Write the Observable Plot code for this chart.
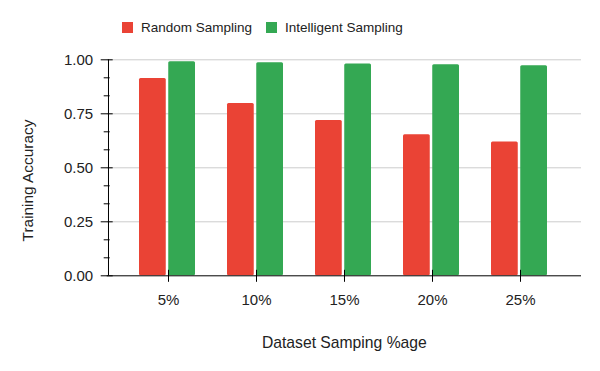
<!DOCTYPE html>
<html>
<head>
<meta charset="utf-8">
<script src="https://cdn.jsdelivr.net/npm/d3@7"></script>
<script src="https://cdn.jsdelivr.net/npm/@observablehq/plot@0.6"></script>
<style>
  body { margin: 0; background: #fff; font-family: "Liberation Sans", Arial, sans-serif; color: #222; }
  #wrap { width: 600px; height: 371px; position: relative; }
  #legend { height: 45px; position: relative; font-size: 13.5px; }
  .item { position: absolute; top: 20px; display: flex; align-items: center; white-space: nowrap; }
  .sw { width: 11px; height: 11px; margin-right: 8px; }
</style>
</head>
<body>
<div id="wrap">
  <div id="legend"></div>
  <div id="chart"></div>
</div>
<script>
const categories = ["5%", "10%", "15%", "20%", "25%"];
const seriesNames = ["Random Sampling", "Intelligent Sampling"];
const randomSampling = [0.913, 0.798, 0.719, 0.653, 0.620];
const intelligentSampling = [0.991, 0.986, 0.981, 0.977, 0.972];
const colors = ["#ea4335", "#34a853"];
const majorTicks = [0, 0.25, 0.5, 0.75, 1];
const minorTicks = [1/12, 2/12, 4/12, 5/12, 7/12, 8/12, 10/12, 11/12];
const xTitle = "Dataset Samping %age";
const yTitle = "Training Accuracy";

// legend
const legend = document.getElementById("legend");
const legendX = [122, 266];
seriesNames.forEach((name, i) => {
  const it = document.createElement("div");
  it.className = "item";
  it.style.left = legendX[i] + "px";
  it.innerHTML = `<span class="sw" style="background:${colors[i]}"></span><span>${name}</span>`;
  legend.appendChild(it);
});

const rows = [];
categories.forEach((c, i) => {
  rows.push({cat: c, series: seriesNames[0], value: randomSampling[i]});
  rows.push({cat: c, series: seriesNames[1], value: intelligentSampling[i]});
});

const W = 600, H = 326;
const mL = 106.7, mR = 19, mT = 14.3, mB = 95.7;
const plotW = W - mL - mR;
const padIn = 0.365, padOut = 0.36;
const step = plotW / (categories.length - padIn + 2 * padOut);
const bw = step * (1 - padIn);
const barW = 27;

const chart = Plot.plot({
  width: W,
  height: H,
  marginLeft: mL,
  marginRight: mR,
  marginTop: mT,
  marginBottom: mB,
  style: {fontFamily: "'Liberation Sans', Arial, sans-serif", fontSize: "15px", color: "#222", background: "transparent"},
  x: {domain: categories, paddingInner: padIn, paddingOuter: padOut, axis: null},
  y: {domain: [0, 1], axis: null},
  marks: [
    Plot.ruleY(majorTicks.filter(d => d > 0), {stroke: "#cccccc", strokeWidth: 1}),
    Plot.barY(rows.filter(d => d.series === seriesNames[0]), {x: "cat", y: "value", fill: colors[0], insetRight: bw - barW, dx: -1, rx: 1.5}),
    Plot.barY(rows.filter(d => d.series === seriesNames[1]), {x: "cat", y: "value", fill: colors[1], insetLeft: bw - barW, dx: -1, rx: 1.5}),
    Plot.ruleY([0], {stroke: "#000", strokeWidth: 1}),
    Plot.ruleX([categories[0]], {y1: 0, y2: 1, stroke: "#000", strokeWidth: 1, dx: -(padOut * step + bw / 2)}),
    Plot.ruleX(categories, {y1: 0, y2: 0, stroke: "#000", insetTop: -5.5, insetBottom: -6.5}),
    Plot.axisX({tickSize: 0, tickPadding: 19, fill: "#222", fontSize: 15, label: null}),
    Plot.axisY({ticks: majorTicks, tickSize: 12, dx: 6, tickFormat: () => "", stroke: "#000", label: null}),
    Plot.axisY({ticks: minorTicks, tickSize: 6, dx: 3, tickFormat: () => "", stroke: "#000", label: null}),
    Plot.axisY({ticks: majorTicks, tickSize: 0, tickPadding: 14, tickFormat: d3.format(".2f"), fill: "#222", fontSize: 15, label: null}),
    Plot.text([xTitle], {frameAnchor: "bottom", lineAnchor: "middle", textAnchor: "middle", dy: 67.5, fill: "#222", fontSize: 15.7}),
    Plot.text([yTitle], {frameAnchor: "left", rotate: -90, textAnchor: "middle", lineAnchor: "middle", dx: -78.7, dy: 12.7, fill: "#222", fontSize: 15.4})
  ]
});
document.getElementById("chart").appendChild(chart);
</script>
</body>
</html>
